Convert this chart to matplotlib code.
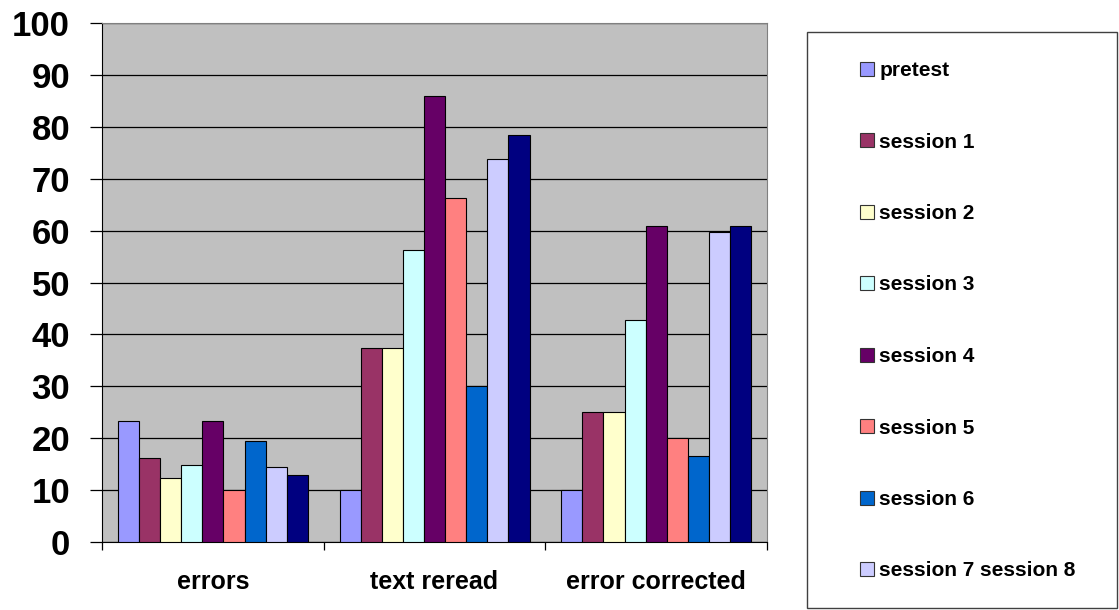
import numpy as np
import matplotlib
matplotlib.use("Agg")
import matplotlib.pyplot as plt
from matplotlib.patches import Rectangle, Patch

plt.rcParams["font.family"] = ["Liberation Sans", "DejaVu Sans"]
plt.rcParams["font.weight"] = "bold"

categories = ["errors", "text reread", "error corrected"]
series_names = ["pretest", "session 1", "session 2", "session 3", "session 4",
                "session 5", "session 6", "session 7", "session 8"]
legend_labels = ["pretest", "session 1", "session 2", "session 3", "session 4",
                 "session 5", "session 6", "session 7 session 8"]

pretest = [23.3, 10, 10]
session1 = [16.2, 37.4, 25]
session2 = [12.4, 37.4, 25]
session3 = [14.9, 56.3, 42.8]
session4 = [23.3, 85.9, 60.8]
session5 = [10, 66.3, 20]
session6 = [19.4, 30, 16.5]
session7 = [14.4, 73.8, 59.8]
session8 = [12.9, 78.4, 60.8]

values = [pretest, session1, session2, session3, session4,
          session5, session6, session7, session8]
colors = ["#9999FF", "#993366", "#FFFFCC", "#CCFFFF", "#660066",
          "#FF8080", "#0066CC", "#CCCCFF", "#000080"]

W, H = 1119, 610
fig = plt.figure(figsize=(W / 100, H / 100), dpi=100)
ax = fig.add_axes([102 / W, (H - 542) / H, (767 - 102) / W, (542 - 23) / H])
ax.set_facecolor("#C0C0C0")

n = len(values)
bw = 1 / (n + 1.5)
x = np.arange(len(categories))
for i, (vals, c) in enumerate(zip(values, colors)):
    ax.bar(x + (i - (n - 1) / 2) * bw, vals, bw, color=c,
           edgecolor="black", linewidth=0.8, zorder=3)

ax.set_xlim(-0.5, 2.5)
ax.set_ylim(0, 100)
ax.set_yticks(range(0, 101, 10))
ax.yaxis.grid(True, color="black", linewidth=0.9, zorder=1)
ax.tick_params(axis="y", direction="out", length=9, width=0.9, pad=14,
               labelsize=25)
for lab in ax.get_yticklabels():
    lab.set_fontweight("bold")

ax.set_xticks([-0.5, 0.5, 1.5, 2.5])
ax.set_xticklabels([])
ax.tick_params(axis="x", which="major", direction="out", length=6, width=0.9)
ax.set_xticks(x, minor=True)
ax.set_xticklabels(categories, minor=True, fontsize=18, fontweight="bold")
ax.tick_params(axis="x", which="minor", length=0, pad=20)

ax.spines["left"].set_color("black")
ax.spines["bottom"].set_color("black")
ax.spines["top"].set_color("#808080")
ax.spines["right"].set_color("#808080")

# legend frame
fig.patches.append(Rectangle((807 / W, (H - 608) / H), (1117 - 807) / W, (608 - 32) / H,
                             transform=fig.transFigure, fill=False,
                             edgecolor="#404040", linewidth=1.0))
handles = [Patch(facecolor=c, edgecolor="#333333", linewidth=0.8) for c in colors[:8]]
fig.legend(handles, legend_labels, loc="upper left",
           bbox_to_anchor=(860 / W, (H - 61) / H), frameon=False,
           prop={"size": 15, "weight": "bold"},
           handlelength=0.68, handleheight=0.68, handletextpad=0.25,
           labelspacing=2.52, borderpad=0, borderaxespad=0)

fig.savefig("out.png", dpi=100)
